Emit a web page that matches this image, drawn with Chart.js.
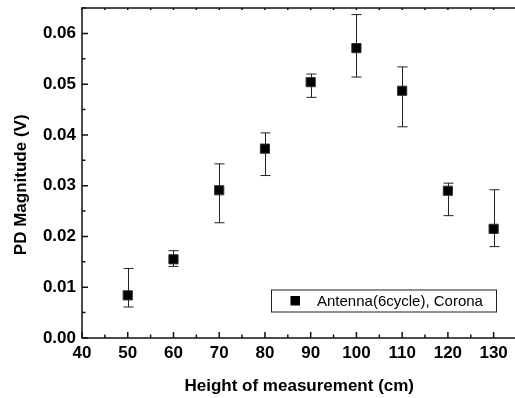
<!DOCTYPE html>
<html>
<head>
<meta charset="utf-8">
<script src="https://cdn.jsdelivr.net/npm/chart.js@4"></script>
<style>
  html, body { margin: 0; padding: 0; background: #fff; overflow: hidden; }
  #wrap { position: relative; width: 524px; height: 398px; }
</style>
</head>
<body>
<div id="wrap"><canvas id="myChart"></canvas></div>
<script>
// measured points, height (cm) vs PD magnitude (V)
var heights = [50, 60, 70, 80, 90, 100, 110, 120, 130];
var pdMean = [0.0084, 0.0155, 0.0291, 0.0373, 0.0504, 0.0571, 0.0487, 0.0290, 0.0215];
var errHigh = [0.0137, 0.0172, 0.0343, 0.0404, 0.0520, 0.0637, 0.0534, 0.0305, 0.0292];
var errLow = [0.0061, 0.0141, 0.0227, 0.0320, 0.0474, 0.0514, 0.0416, 0.0241, 0.0180];
var seriesName = 'Antenna(6cycle), Corona';

var FONT = "'Liberation Sans', Arial, sans-serif";

//error bars under the markers
var errorBars = {
  id: 'errorBars',
  beforeDatasetsDraw: function(chart){
    var ctx = chart.ctx;
    var xs = chart.scales.x, ys = chart.scales.y;
    ctx.save();
    ctx.strokeStyle = '#222';
    ctx.lineWidth = 1;
    for (var i = 0; i < heights.length; i++){
      var px = Math.round(xs.getPixelForValue(heights[i])) + 0.5;
      var top = ys.getPixelForValue(errHigh[i]);
      var bot = ys.getPixelForValue(errLow[i]);
      ctx.beginPath();
      ctx.moveTo(px, top); ctx.lineTo(px, bot);
      ctx.moveTo(px - 5, top); ctx.lineTo(px + 5, top);
      ctx.moveTo(px - 5, bot); ctx.lineTo(px + 5, bot);
      ctx.stroke();
    }
    ctx.restore();
  }
};

//box frame with inward ticks, plus the legend box
var frame = {
  id: 'frame',
  afterDraw: function(chart){
    var ctx = chart.ctx;
    var a = chart.chartArea;
    var xs = chart.scales.x, ys = chart.scales.y;
    ctx.save();
    ctx.strokeStyle = '#111';
    ctx.lineWidth = 1.5;
    ctx.strokeRect(a.left, a.top, a.right - a.left, a.bottom - a.top);
    ctx.beginPath();
    for (var v = 40; v <= 135; v += 5){
      var px = xs.getPixelForValue(v);
      var len = (v % 10 === 0) ? 6 : 3.5;
      ctx.moveTo(px, a.bottom); ctx.lineTo(px, a.bottom - len);
      ctx.moveTo(px, a.top); ctx.lineTo(px, a.top + 2);
    }
    for (var k = 0; k <= 13; k++){
      var py = ys.getPixelForValue(k * 0.005);
      var l2 = (k % 2 === 0) ? 6 : 3.5;
      ctx.moveTo(a.left, py); ctx.lineTo(a.left + l2, py);
    }
    ctx.stroke();

    // legend
    var lx = 271, ly = 289.5, lw = 225, lh = 22;
    ctx.fillStyle = '#fff';
    ctx.fillRect(lx, ly, lw, lh);
    ctx.lineWidth = 1;
    ctx.strokeStyle = '#222';
    ctx.strokeRect(lx + 0.5, ly + 0.5, lw, lh);
    ctx.fillStyle = '#000';
    ctx.fillRect(lx + 19.5, ly + 6.5, 9.5, 9.5);
    ctx.font = '15px ' + FONT;
    ctx.textBaseline = 'middle';
    ctx.fillText(chart.data.datasets[0].label, lx + 46, ly + lh / 2 + 1);
    ctx.restore();
  }
};

var ctx = document.getElementById('myChart').getContext('2d');
var myChart = new Chart(ctx, {
  type: 'scatter',
  data: {
    datasets: [{
      label: seriesName,
      data: heights.map(function(h, i){ return {x: h, y: pdMean[i]}; }),
      pointStyle: 'rect',
      pointRadius: 6.5,
      pointHoverRadius: 6.5,
      backgroundColor: '#000',
      borderColor: '#333',
      borderWidth: 1
    }]
  },
  options: {
    responsive: true,
    maintainAspectRatio: false,
    animation: false,
    layout: { padding: { top: 8, right: 2, left: 0, bottom: 0 } },
    plugins: { legend: { display: false }, tooltip: { enabled: false } },
    scales: {
      x: {
        type: 'linear',
        min: 40, max: 135,
        afterFit: function(s){ s.height = 60; s.paddingLeft = 0; s.paddingRight = 0; },
        grid: { display: false, drawTicks: false },
        border: { display: false },
        ticks: {
          stepSize: 10, padding: 5, color: '#000',
          autoSkip: false, maxRotation: 0, includeBounds: false,
          font: { family: FONT, size: 17, weight: 'bold' },
          callback: function(v){ return v % 10 === 0 ? v : ''; }
        },
        title: {
          display: true, text: 'Height of measurement (cm)', color: '#000',
          padding: { bottom: 1 },
          font: { family: FONT, size: 17, weight: 'bold' }
        }
      },
      y: {
        min: 0, max: 0.065,
        afterFit: function(s){ s.width = 82; s.paddingTop = 0; s.paddingBottom = 0; },
        grid: { display: false, drawTicks: false },
        border: { display: false },
        ticks: {
          stepSize: 0.01, padding: 6, color: '#000',
          font: { family: FONT, size: 17, weight: 'bold' },
          callback: function(v){
            return Math.abs(v * 100 - Math.round(v * 100)) < 1e-6 ? v.toFixed(2) : '';
          }
        },
        title: {
          display: true, text: 'PD Magnitude (V)     ', color: '#000',
          padding: { top: 11 },
          font: { family: FONT, size: 17, weight: 'bold' }
        }
      }
    }
  },
  plugins: [errorBars, frame]
});
</script>
</body>
</html>
